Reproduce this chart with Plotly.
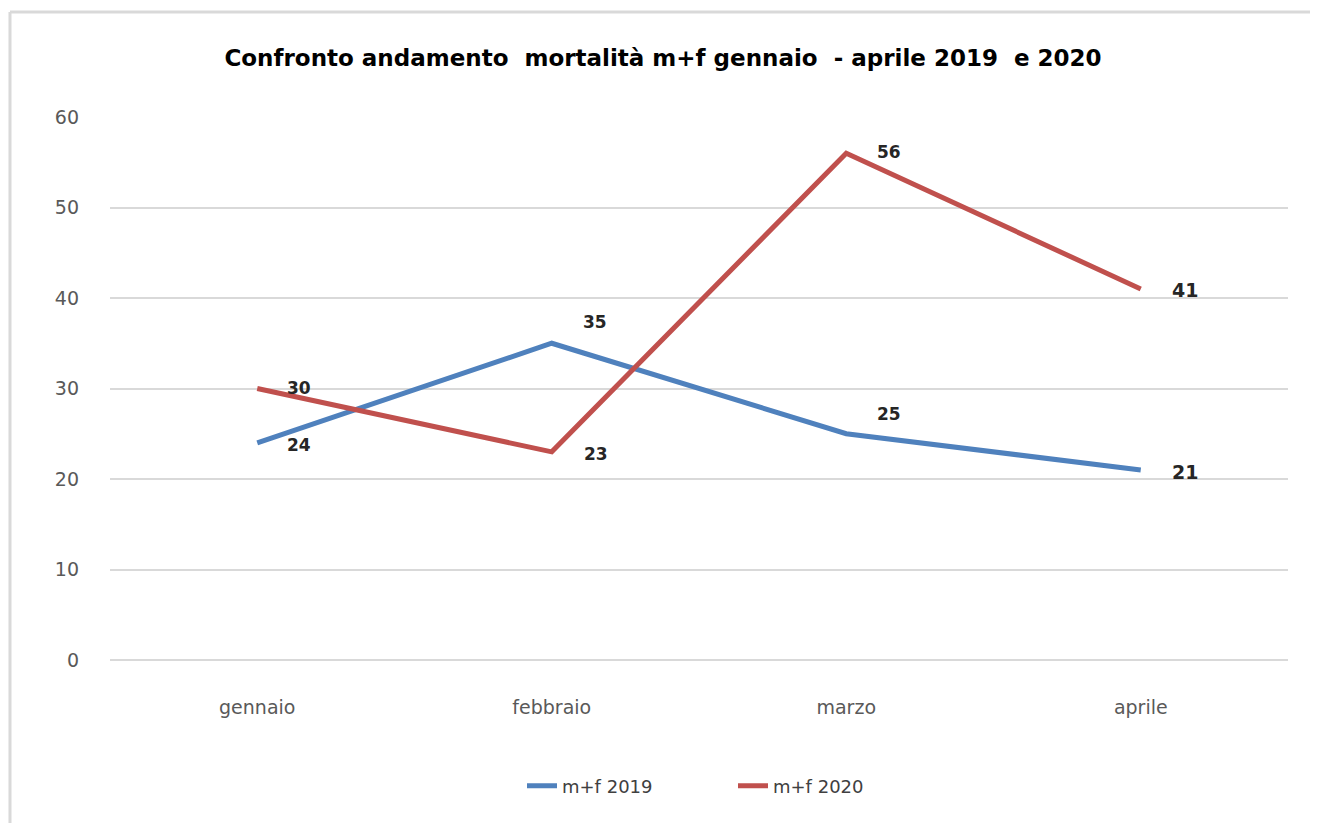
import plotly.graph_objects as go

months = ["gennaio", "febbraio", "marzo", "aprile"]
tick_labels = ["gennaio", "febbraio", "marzo", "aprile"]
deaths_2019 = [24, 35, 25, 21]
deaths_2020 = [30, 23, 56, 41]
series_names = ["m+f 2019", "m+f 2020"]
title_text = "Confronto andamento  mortalità m+f gennaio  - aprile 2019  e 2020"

blue = "#4F81BD"
red = "#C0504D"
FONT = "DejaVu Sans, Liberation Sans, Arial"

fig = go.Figure()
fig.add_trace(go.Scatter(x=months, y=deaths_2019, mode="lines", name=series_names[0],
                         line=dict(color=blue, width=5)))
fig.add_trace(go.Scatter(x=months, y=deaths_2020, mode="lines", name=series_names[1],
                         line=dict(color=red, width=5)))

# data labels
shifts_2019 = [(42, -2), (43, 21), (43, 20), (44, -2)]
shifts_2020 = [(42, 1), (44, -2), (43, 1), (44, -1)]
for vals, shifts in ((deaths_2019, shifts_2019), (deaths_2020, shifts_2020)):
    for i, (m, v) in enumerate(zip(months, vals)):
        big = i == 3
        fig.add_annotation(x=m, y=v, text=f"<b>{v}</b>", showarrow=False,
                           xshift=shifts[i][0], yshift=shifts[i][1],
                           font=dict(family=FONT, size=19 if big else 17, color="#262626"))

# outer chart border (left and top edges visible)
fig.add_shape(type="line", xref="paper", yref="paper", x0=-0.0849, x1=-0.0849,
              y0=-0.32, y1=1.1934, line=dict(color="#d9d9d9", width=3))
fig.add_shape(type="line", xref="paper", yref="paper", x0=-0.0849, x1=1.05,
              y0=1.1934, y1=1.1934, line=dict(color="#d9d9d9", width=3))

fig.update_layout(
    width=1310, height=815,
    margin=dict(l=102, r=30, t=109, b=163),
    paper_bgcolor="white", plot_bgcolor="white",
    title=dict(text=f"<b>{title_text}</b>", x=0.5, xanchor="center",
               y=1 - 50 / 815, yanchor="middle",
               font=dict(family=FONT, size=23, color="#000000")),
    showlegend=True,
    legend=dict(orientation="h", x=(522 - 110) / 1178, xanchor="left", y=-0.232, yanchor="middle",
                font=dict(family=FONT, size=18, color="#404040"),
                itemwidth=30, entrywidth=166, entrywidthmode="pixels"),
    font=dict(family=FONT),
)
fig.update_xaxes(type="category", categoryorder="array", categoryarray=months,
                 tickvals=months, ticktext=tick_labels, range=[-0.5, 3.5],
                 showgrid=False, showline=False, zeroline=False, ticks="",
                 ticklabelstandoff=34,
                 tickfont=dict(family=FONT, size=19, color="#595959"))
fig.update_yaxes(range=[0, 60], dtick=10, showgrid=True, gridcolor="#d9d9d9", gridwidth=2,
                 zeroline=True, zerolinecolor="#d9d9d9", zerolinewidth=2,
                 showline=False, ticks="", ticklabelstandoff=30,
                 tickfont=dict(family=FONT, size=19, color="#595959"))

fig.write_html("out.html")
